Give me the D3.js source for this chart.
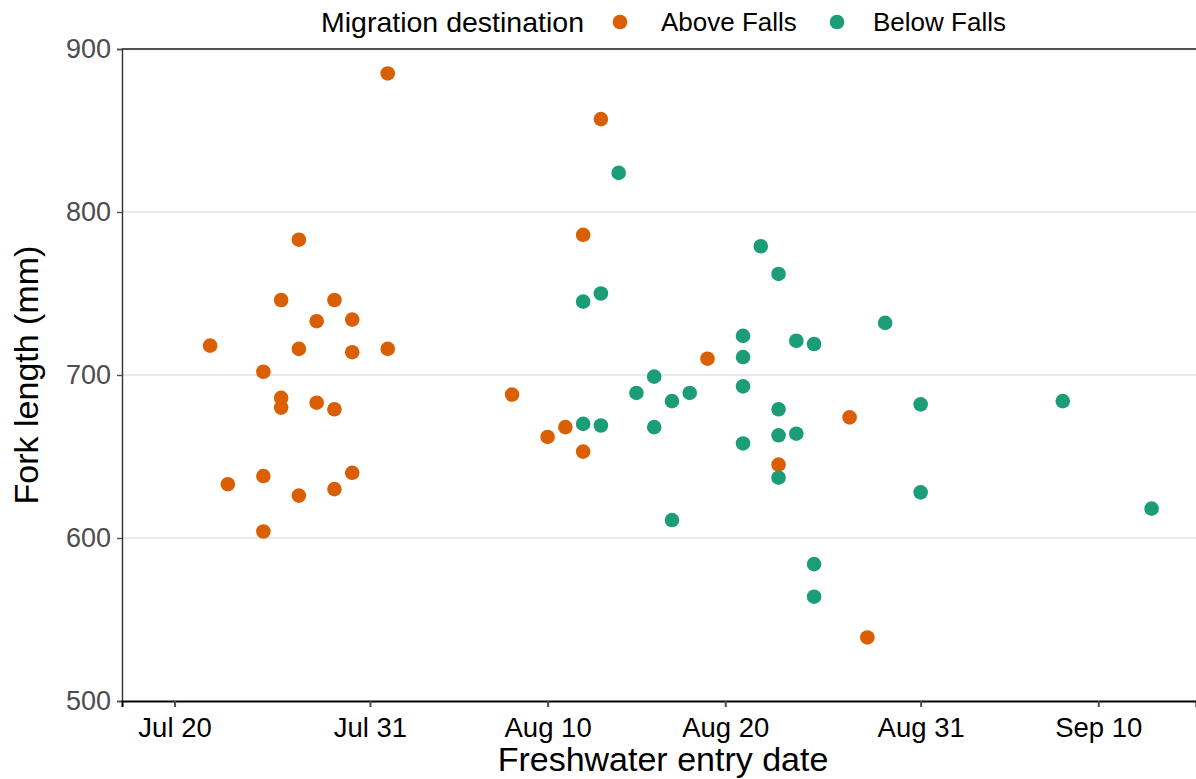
<!DOCTYPE html>
<html>
<head>
<meta charset="utf-8">
<script src="https://cdn.jsdelivr.net/npm/d3@7"></script>
<style>
  html, body { margin: 0; padding: 0; background: #ffffff; }
  svg { display: block; font-family: "Liberation Sans", Arial, sans-serif; }
</style>
</head>
<body>
<svg id="chart" width="1196" height="779"></svg>
<script>
// Fork length (mm) against freshwater entry date, by migration destination
const groups = ["Above Falls", "Below Falls"];
const groupColors = ["#D95F02", "#1B9E77"];

const aboveDates = [
  "2021-07-22", "2021-07-23",
  "2021-07-25", "2021-07-25", "2021-07-25",
  "2021-07-26", "2021-07-26", "2021-07-26",
  "2021-07-27", "2021-07-27", "2021-07-27",
  "2021-07-28", "2021-07-28",
  "2021-07-29", "2021-07-29", "2021-07-29",
  "2021-07-30", "2021-07-30", "2021-07-30",
  "2021-08-01", "2021-08-01",
  "2021-08-08", "2021-08-10", "2021-08-11",
  "2021-08-12", "2021-08-12", "2021-08-13",
  "2021-08-19", "2021-08-23", "2021-08-27", "2021-08-28"
];
const aboveLengths = [
  718, 633,
  702, 638, 604,
  746, 686, 680,
  783, 716, 626,
  733, 683,
  746, 679, 630,
  734, 714, 640,
  885, 716,
  688, 662, 668,
  786, 653, 857,
  710, 645, 674, 539
];

const belowDates = [
  "2021-08-12", "2021-08-12",
  "2021-08-13", "2021-08-13",
  "2021-08-14", "2021-08-15",
  "2021-08-16", "2021-08-16",
  "2021-08-17", "2021-08-17",
  "2021-08-18",
  "2021-08-21", "2021-08-21", "2021-08-21", "2021-08-21",
  "2021-08-22",
  "2021-08-23", "2021-08-23", "2021-08-23", "2021-08-23",
  "2021-08-24", "2021-08-24",
  "2021-08-25", "2021-08-25", "2021-08-25",
  "2021-08-29", "2021-08-31", "2021-08-31",
  "2021-09-08", "2021-09-13"
];
const belowLengths = [
  745, 670,
  750, 669,
  824, 689,
  699, 668,
  684, 611,
  689,
  724, 711, 693, 658,
  779,
  762, 679, 663, 637,
  721, 664,
  719, 584, 564,
  732, 682, 628,
  684, 618
];

const xTickDates = ["2021-07-20", "2021-07-31", "2021-08-10", "2021-08-20", "2021-08-31", "2021-09-10"];
const xTickLabels = ["Jul 20", "Jul 31", "Aug 10", "Aug 20", "Aug 31", "Sep 10"];
const yTicks = [500, 600, 700, 800, 900];

const parse = d3.timeParse("%Y-%m-%d");

const svg = d3.select("#chart");
const plotLeft = 122, plotRight = 1196, plotTop = 49, plotBottom = 701;

const x0 = parse("2021-07-20");
const x = d3.scaleTime()
  .domain([d3.timeHour.offset(x0, -71), d3.timeHour.offset(x0, 1380)])
  .range([plotLeft, plotRight]);
const y = d3.scaleLinear().domain([500, 900]).range([plotBottom, plotTop]);

// horizontal grid
svg.append("g")
  .selectAll("line")
  .data(yTicks.filter(v => v > 500 && v < 900))
  .join("line")
  .attr("x1", plotLeft).attr("x2", plotRight)
  .attr("y1", d => y(d)).attr("y2", d => y(d))
  .attr("stroke", "#d4d4d4").attr("stroke-width", 1.2);

// top border
svg.append("line")
  .attr("x1", plotLeft).attr("x2", plotRight)
  .attr("y1", y(900)).attr("y2", y(900))
  .attr("stroke", "#1a1a1a").attr("stroke-width", 1.4);

// y axis
const yAxis = svg.append("g")
  .attr("transform", `translate(${plotLeft},0)`)
  .call(d3.axisLeft(y).tickValues(yTicks).tickSize(5).tickPadding(6));
yAxis.select(".domain").attr("stroke", "#333333").attr("stroke-width", 1.4);
yAxis.selectAll(".tick line").attr("stroke", "#4d4d4d").attr("stroke-width", 1.4);
yAxis.selectAll(".tick text")
  .attr("fill", "#4d4d4d")
  .style("font-size", "27px")
  .style("font-family", "'Liberation Sans', Arial, sans-serif");

// x axis
const xAxis = svg.append("g")
  .attr("transform", `translate(0,${plotBottom})`)
  .call(d3.axisBottom(x)
    .tickValues(xTickDates.map(parse))
    .tickFormat((d, i) => xTickLabels[i])
    .tickSize(6).tickPadding(10));
xAxis.select(".domain").attr("stroke", "#000000").attr("stroke-width", 2);
xAxis.selectAll(".tick line").attr("stroke", "#4d4d4d").attr("stroke-width", 2);
xAxis.selectAll(".tick text")
  .attr("fill", "#000000")
  .style("font-size", "27.5px")
  .style("font-family", "'Liberation Sans', Arial, sans-serif");

// points
const pointData = [
  ...aboveDates.map((d, i) => ({ date: parse(d), len: aboveLengths[i], g: 0 })),
  ...belowDates.map((d, i) => ({ date: parse(d), len: belowLengths[i], g: 1 }))
];
svg.append("g")
  .selectAll("circle")
  .data(pointData)
  .join("circle")
  .attr("cx", d => x(d.date))
  .attr("cy", d => y(d.len))
  .attr("r", 7.3)
  .attr("fill", d => groupColors[d.g]);

// axis titles
svg.append("text")
  .attr("x", 663)
  .attr("y", 771)
  .attr("text-anchor", "middle")
  .style("font-size", "34px")
  .attr("fill", "#000")
  .text("Freshwater entry date");

svg.append("text")
  .attr("transform", `translate(38,${(plotTop + plotBottom) / 2}) rotate(-90)`)
  .attr("text-anchor", "middle")
  .style("font-size", "34px")
  .attr("fill", "#000")
  .text("Fork length (mm)");

// legend
const legend = svg.append("g");
legend.append("text")
  .attr("x", 321).attr("y", 32)
  .style("font-size", "28.5px")
  .attr("fill", "#000")
  .text("Migration destination");

const legendItems = [
  { dot: 620, label: 661 },
  { dot: 837, label: 873 }
];
groups.forEach((g, i) => {
  legend.append("circle")
    .attr("cx", legendItems[i].dot).attr("cy", 22)
    .attr("r", 7.3).attr("fill", groupColors[i]);
  legend.append("text")
    .attr("x", legendItems[i].label).attr("y", 31)
    .style("font-size", "26px")
    .attr("fill", "#000")
    .text(g);
});
</script>
</body>
</html>
